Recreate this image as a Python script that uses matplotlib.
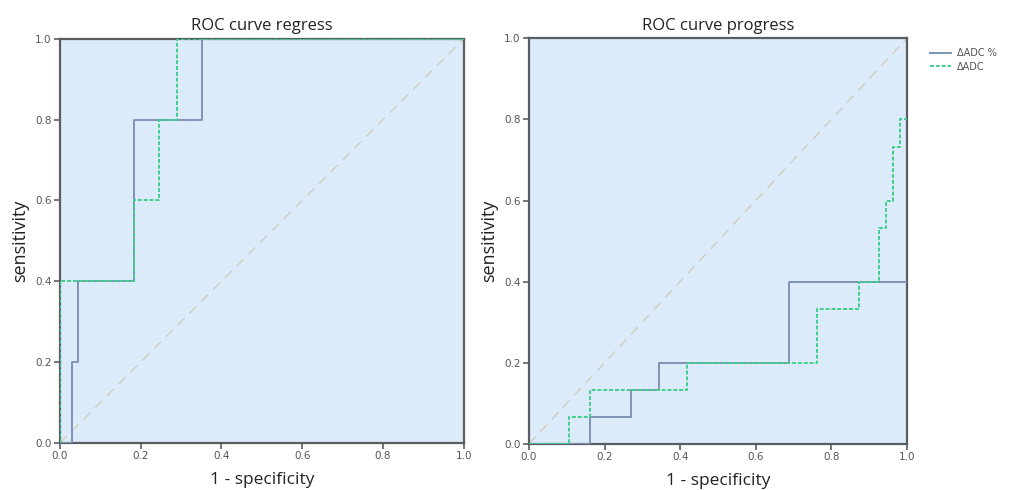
import numpy as np
import matplotlib
matplotlib.use("Agg")
import matplotlib.pyplot as plt

# ROC curve "regress" (1 - specificity, sensitivity)
reg_pct_x = [0.0, 0.029, 0.029, 0.045, 0.045, 0.184, 0.184, 0.353, 0.353, 1.0]
reg_pct_y = [0.0, 0.0, 0.2, 0.2, 0.4, 0.4, 0.8, 0.8, 1.0, 1.0]
reg_abs_x = [0.0, 0.0, 0.184, 0.184, 0.246, 0.246, 0.291, 0.291, 1.0]
reg_abs_y = [0.0, 0.4, 0.4, 0.6, 0.6, 0.8, 0.8, 1.0, 1.0]

# ROC curve "progress"
pro_pct_x = [0.0, 0.162, 0.162, 0.271, 0.271, 0.344, 0.344, 0.689, 0.689, 1.0]
pro_pct_y = [0.0, 0.0, 0.0667, 0.0667, 0.133, 0.133, 0.2, 0.2, 0.4, 0.4]
pro_abs_x = [0.0, 0.106, 0.106, 0.162, 0.162, 0.417, 0.417, 0.763, 0.763, 0.874, 0.874,
             0.927, 0.927, 0.945, 0.945, 0.963, 0.963, 0.982, 0.982, 1.0]
pro_abs_y = [0.0, 0.0, 0.0667, 0.0667, 0.133, 0.133, 0.2, 0.2, 0.333, 0.333, 0.4,
             0.4, 0.533, 0.533, 0.6, 0.6, 0.733, 0.733, 0.8, 0.8]

titles = ["ROC curve regress", "ROC curve progress"]
series_names = ["\u0394ADC %", "\u0394ADC"]
ticks = [0.0, 0.2, 0.4, 0.6, 0.8, 1.0]

blue = "#7e93b6"
green = "#3fcf8c"
bg = "#dcebf9"
spine = "#5a5e62"

fig = plt.figure(figsize=(10.33, 4.9), dpi=100)
ax1 = fig.add_axes([0.058, 0.096, 0.391, 0.825])
ax2 = fig.add_axes([0.512, 0.094, 0.366, 0.828])

panels = [(ax1, reg_pct_x, reg_pct_y, reg_abs_x, reg_abs_y),
          (ax2, pro_pct_x, pro_pct_y, pro_abs_x, pro_abs_y)]

for i, (ax, px, py, ax_, ay) in enumerate(panels):
    ax.set_facecolor(bg)
    ax.plot([0, 1], [0, 1], color="#cfcfbf", lw=1.0, dashes=(7, 5), zorder=1)
    l1, = ax.plot(px, py, color=blue, lw=1.4, zorder=3, label=series_names[0])
    l2, = ax.plot(ax_, ay, color=green, lw=1.4, ls=(0, (2, 1)), zorder=3, label=series_names[1])
    ax.set_xlim(0, 1)
    ax.set_ylim(0, 1)
    ax.set_xticks(ticks)
    ax.set_yticks(ticks)
    ax.set_xticklabels(["%.1f" % t for t in ticks])
    ax.set_yticklabels(["%.1f" % t for t in ticks])
    ax.tick_params(direction="out", length=4, width=1.2, color=spine,
                   labelsize=7.5, labelcolor="#555555", pad=2)
    for s in ax.spines.values():
        s.set_color(spine)
        s.set_linewidth(1.6)
    ax.set_title(titles[i], fontsize=12, family="Open Sans", color="#222222", pad=6)
    ax.set_xlabel("1 - specificity", fontsize=12.5, family="Open Sans", color="#222222", labelpad=8)
    ax.set_ylabel("sensitivity", fontsize=13, family="Open Sans", color="#222222", labelpad=4)

leg = ax2.legend(handles=[l1, l2], loc="upper left", bbox_to_anchor=(1.05, 0.985),
                 frameon=False, fontsize=7, handlelength=2.2, handletextpad=0.6,
                 labelspacing=0.35, borderaxespad=0)
for t in leg.get_texts():
    t.set_color("#555555")

fig.savefig("out.png", dpi=100)
